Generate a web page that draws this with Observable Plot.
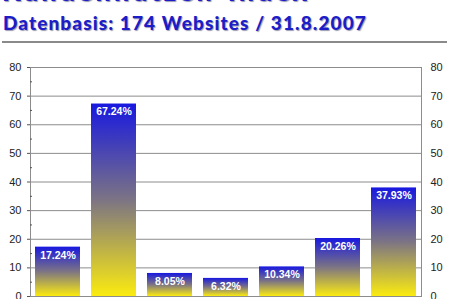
<!DOCTYPE html>
<html>
<head>
<meta charset="utf-8">
<script src="https://cdn.jsdelivr.net/npm/d3@7"></script>
<script src="https://cdn.jsdelivr.net/npm/@observablehq/plot@0.6"></script>
<style>
  html, body { margin: 0; padding: 0; background: #fff; width: 449px; height: 299px; overflow: hidden; }
  #head { position: relative; height: 48px; }
  #title { position: absolute; left: 2px; top: -26px; font: 900 27px "Lato", sans-serif; color: #1c1cc8; white-space: nowrap; text-shadow: 1px 1px 1px #9a9ab0; letter-spacing: 3px; }
  #subtitle { position: absolute; left: 3px; top: 11px; font: 900 19px "Lato", sans-serif; color: #1c1cc8; white-space: nowrap; text-shadow: 1px 1px 1px #9a9ab0; letter-spacing: 1.1px; }
  #rule { position: absolute; left: 2px; right: 2px; top: 41px; height: 0; border-top: 2px solid #8a8a8a; }
  #chart svg { display: block; }
</style>
</head>
<body>
<div id="head">
  <div id="title">Kundennutzen-Index</div>
  <div id="subtitle">Datenbasis: 174 Websites / 31.8.2007</div>
  <div id="rule"></div>
</div>
<div id="chart"></div>
<script>
const categories = ["1", "2", "3", "4", "5", "6", "7"];
const values = [17.24, 67.24, 8.05, 6.32, 10.34, 20.26, 37.93];
const labels = ["17.24%", "67.24%", "8.05%", "6.32%", "10.34%", "20.26%", "37.93%"];
const majorTicks = [0, 10, 20, 30, 40, 50, 60, 70, 80];
const minorTicks = [5, 15, 25, 35, 45, 55, 65, 75];

const data = categories.map((c, i) => ({cat: c, value: values[i], label: labels[i]}));

const chart = Plot.plot({
  width: 449,
  height: 251,
  marginTop: 19,
  marginBottom: 3,
  marginLeft: 30,
  marginRight: 28,
  style: {fontFamily: "Liberation Sans, Arial, sans-serif", fontSize: "11px", color: "#222", background: "transparent"},
  x: {domain: categories, paddingInner: 0.196, paddingOuter: 0.06, axis: null},
  y: {domain: [0, 80], label: null},
  marks: [
    Plot.gridY(majorTicks, {stroke: "#8c8c8c", strokeOpacity: 1}),
    Plot.barY(data, {x: "cat", y: "value", fill: "url(#barGrad)"}),
    Plot.frame({stroke: "#8c8c8c"}),
    Plot.axisY(majorTicks, {anchor: "left", label: null, tickSize: 3, tickPadding: 6, stroke: "#555", fill: "#222", fontSize: 11}),
    Plot.axisY(minorTicks, {anchor: "left", label: null, tickSize: -2, text: null, stroke: "#555"}),
    Plot.axisY(majorTicks, {anchor: "right", label: null, tickSize: 0, tickPadding: 9, fill: "#222", fontSize: 11}),
    Plot.text(data, {x: "cat", y: "value", text: "label", dy: 8, fill: "white", fontWeight: "bold", fontSize: 10.5, letterSpacing: "0.6px", fontFamily: "Liberation Sans, Arial, sans-serif"})
  ]
});

const ns = "http://www.w3.org/2000/svg";
const defs = document.createElementNS(ns, "defs");
defs.innerHTML = `<linearGradient id="barGrad" x1="0" y1="0" x2="0" y2="1">
  <stop offset="0" stop-color="#1818e0"/>
  <stop offset="0.5" stop-color="#7c7484"/>
  <stop offset="1" stop-color="#fbeb10"/>
</linearGradient>`;
chart.insertBefore(defs, chart.firstChild);
document.getElementById("chart").appendChild(chart);
</script>
</body>
</html>
